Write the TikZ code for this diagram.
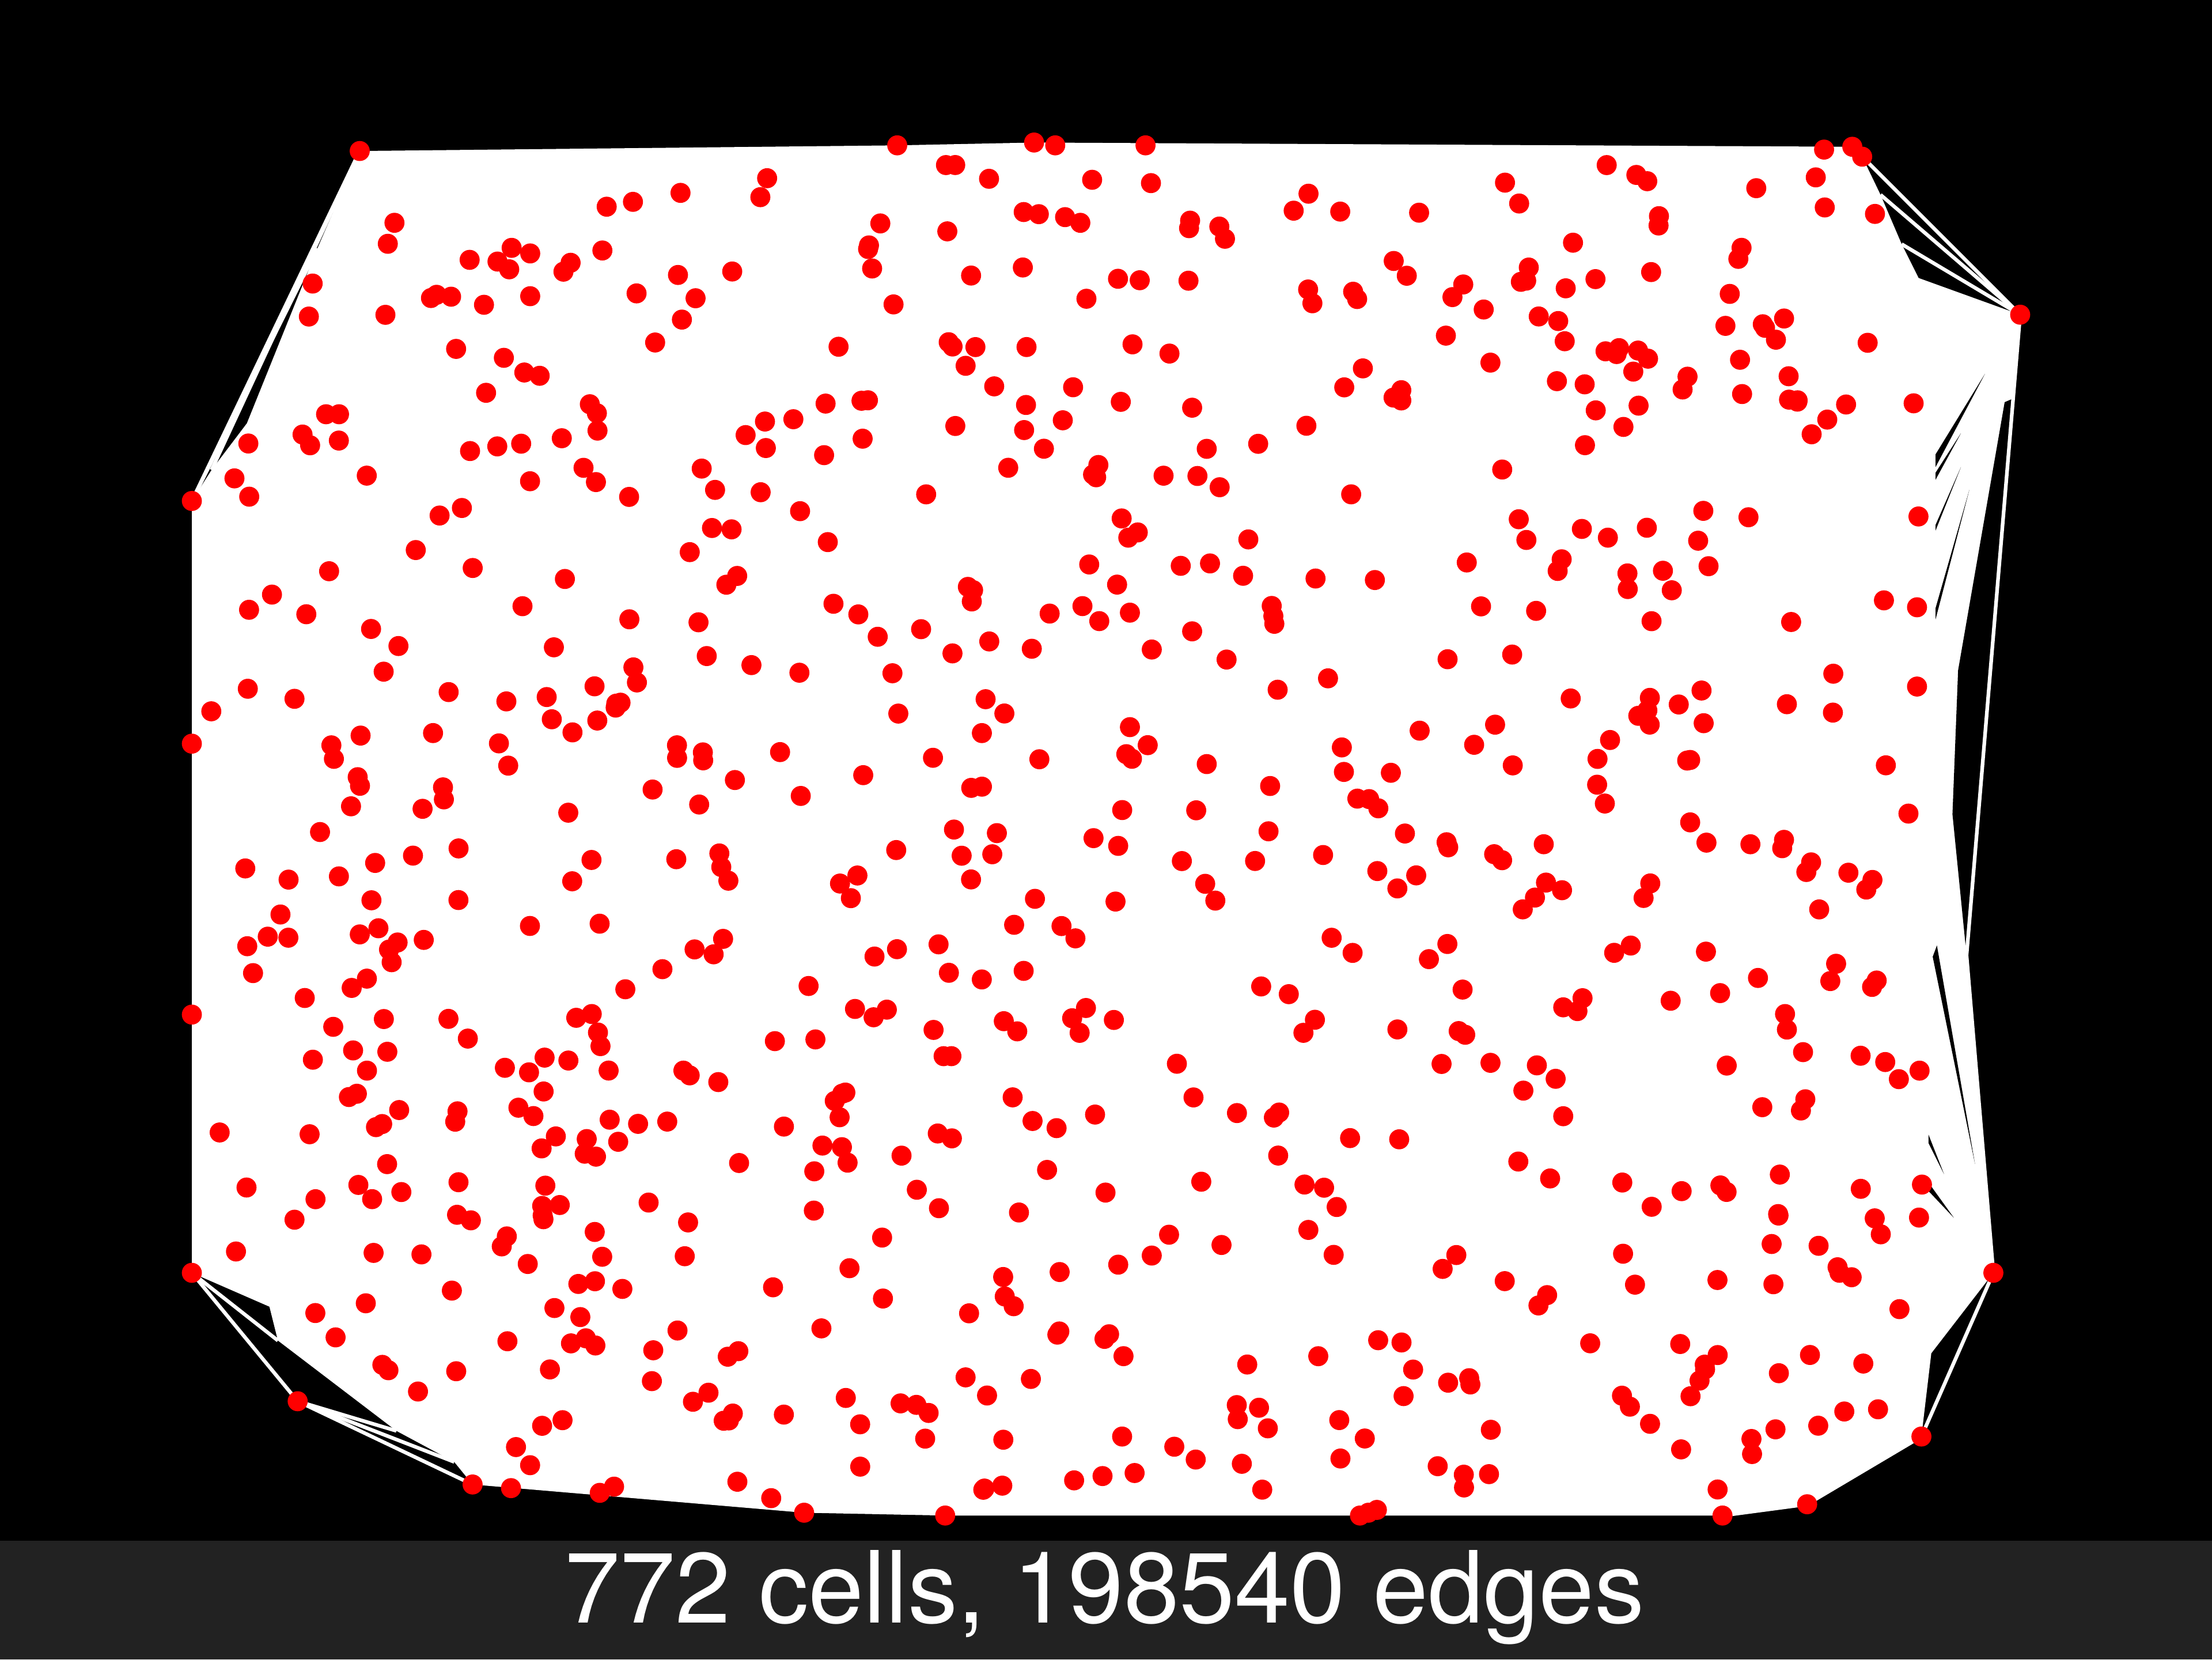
\documentclass[tikz,border=0pt]{standalone}
\usepackage{fontspec}
\usepackage{xcolor}
\newfontfamily\capfont{TeX Gyre Heros}
\definecolor{capBack}{HTML}{222222}
\definecolor{cellRed}{HTML}{FF0000}
\tikzset{
    cell/.style={circle, fill=cellRed, inner sep=0pt, minimum size=0.145cm},
    hulledge/.style={-, white, line width=0.75pt},
    gap/.style={fill=black},
    caption/.style={text=white, font=\capfont\fontsize{20.5}{24}\selectfont, anchor=base},
}

\begin{document}
\begin{tikzpicture}[x=0.010204cm, y=-0.010204cm]
    \useasboundingbox (0,0) rectangle (1568,1176);
    \fill[black] (0,0) rectangle (1568,1092);
    \fill[capBack] (0,1092) rectangle (1568,1176);

    % hull cells
    \coordinate (A) at (255,107);
    \coordinate (T1) at (636,103);
    \coordinate (T2) at (733,101);
    \coordinate (T3) at (748,103);
    \coordinate (T4) at (812,103);
    \coordinate (B1) at (1293,106);
    \coordinate (B2) at (1313,104);
    \coordinate (B3) at (1320,111);
    \coordinate (C) at (1432,223);
    \coordinate (X) at (1394,677);
    \coordinate (D) at (1413,902);
    \coordinate (E) at (1362,1018);
    \coordinate (F) at (1281,1066);
    \coordinate (G) at (1221,1074);
    \coordinate (H1) at (964,1074);
    \coordinate (H2) at (970,1072);
    \coordinate (H3) at (976,1070);
    \coordinate (I) at (670,1074);
    \coordinate (J) at (570,1072);
    \coordinate (K) at (335,1052);
    \coordinate (L) at (211,993);
    \coordinate (M) at (136,902);
    \coordinate (W1) at (136,719);
    \coordinate (W2) at (136,527);
    \coordinate (N) at (136,355);

    % inner ends of the fans
    \coordinate (Q1) at (1333,138);
    \coordinate (Q2) at (1348,173);
    \coordinate (Q3) at (1360,197);
    \coordinate (R4) at (1369,959);
    \coordinate (S1) at (322,1036);
    \coordinate (S2) at (281,1014);
    \coordinate (S3) at (197,950);
    \coordinate (S4) at (191,926);
    \coordinate (P1) at (150,333);
    \coordinate (P2) at (175,300);
    \coordinate (P3) at (225,176);

    \fill[white] (A) -- (T1) -- (T2) -- (B2) -- (B3) -- (Q1) -- (Q2) -- (Q3)
        -- (C) -- (X) -- (D) -- (R4) -- (E) -- (F) -- (G) -- (H1) -- (I)
        -- (J) -- (K) -- (S1) -- (S2) -- (S3) -- (S4) -- (M) -- (N) -- (P1)
        -- (P2) -- (P3) -- cycle;

    % slivers between the fans on the right
    \fill[gap] (1421,285) -- (1388,475) -- (1384,577) -- (X) -- (1428,282) -- cycle;
    \fill[gap] (1372,322) -- (1372,331) -- (1407,265) -- cycle;
    \fill[gap] (1372,335) -- (1372,340) -- (1390,307) -- cycle;
    \fill[gap] (1372,372) -- (1372,376) -- (1390,331) -- cycle;
    \fill[gap] (1372,431) -- (1372,439) -- (1396,347) -- cycle;
    \fill[gap] (1370,678) -- (1373,670) -- (1400,825) -- cycle;
    \fill[gap] (1367,804) -- (1367,810) -- (1378,832) -- cycle;
    \fill[gap] (1367,838) -- (1367,844) -- (1385,863) -- cycle;

    \draw[hulledge] (B3) -- (C);
    \draw[hulledge] (Q1) -- (C);
    \draw[hulledge] (Q2) -- (C);
    \draw[hulledge] (C) -- (X);
    \draw[hulledge] (X) -- (D);
    \draw[hulledge] (D) -- (E);
    \draw[hulledge] (E) -- (F);
    \draw[hulledge] (F) -- (G);
    \draw[hulledge] (K) -- (L);
    \draw[hulledge] (L) -- (S1);
    \draw[hulledge] (L) -- (S2);
    \draw[hulledge] (L) -- (M);
    \draw[hulledge] (M) -- (S3);
    \draw[hulledge] (N) -- (A);
    \draw[hulledge] (N) -- (P3);
    \draw[hulledge] (P1) -- (A);

    \foreach \h in {A,T1,T2,T3,T4,B1,B2,B3,C,D,E,F,G,H1,H2,H3,I,J,K,L,M,W1,W2,N}
        \node[cell] (c\h) at (\h) {};

    % inner cells
    \pgfmathsetseed{1976}
    \foreach \i in {1,...,790}{
        \pgfmathsetmacro\px{148+rnd*1218}
        \pgfmathsetmacro\py{116+rnd*946}
        \pgfmathtruncatemacro\ok{and(and(\px>263-(\py-107)*0.48, \py<894+(\px-136)*1.21),
            and(and(\py<985+(\px-211)*0.476, \px<1305+(\py-103)*0.51), \py<1010+(1362-\px)*0.59))}
        \ifnum\ok=1 \node[cell] (d\i) at (\px,\py) {};\fi
    }

    \node[caption] (count) at (783,1150) {772 cells, 198540 edges};
\end{tikzpicture}
\end{document}
